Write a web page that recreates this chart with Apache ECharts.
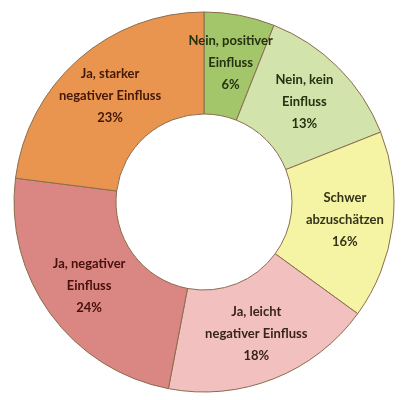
<!DOCTYPE html>
<html>
<head>
<meta charset="utf-8">
<script src="https://cdn.jsdelivr.net/npm/echarts@6/dist/echarts.min.js"></script>
<style>
html,body{margin:0;padding:0;background:#fff;}
#container{width:408px;height:400px;}
</style>
</head>
<body>
<div id="container"></div>
<script>
// Antworten, im Uhrzeigersinn ab 12 Uhr
var categories = [
    'Nein, positiver\nEinfluss',
    'Nein, kein\nEinfluss',
    'Schwer\nabzuschätzen',
    'Ja, leicht\nnegativer Einfluss',
    'Ja, negativer\nEinfluss',
    'Ja, starker\nnegativer Einfluss'
];
var values = [6, 13, 16, 18, 24, 23];
var colors = ['#a3c66a', '#d2e3ac', '#f5f4a4', '#f1c0bf', '#da8682', '#e9954f'];
var labelColors = ['#243210', '#243210', '#33331a', '#38241c', '#46100c', '#42180a'];

var dom = document.getElementById("container");
var myChart = echarts.init(dom);
var option = null;

var data = [];
for (var i = 0; i < values.length; i++) {
    data.push({
        name: categories[i],
        value: values[i],
        itemStyle: {color: colors[i]},
        label: {color: labelColors[i]}
    });
}

option = {
    animation: false,
    series: [{
        type: 'pie',
        center: ['50%', '50.5%'],
        radius: [88, 190],
        startAngle: 90,
        clockwise: true,
        avoidLabelOverlap: false,
        itemStyle: {
            borderColor: '#8a6d4e',
            borderWidth: 1
        },
        label: {
            show: true,
            position: 'inside',
            formatter: '{b}\n{c}%',
            fontFamily: 'Lato',
            fontWeight: 'bold',
            fontSize: 13,
            lineHeight: 22,
            align: 'center'
        },
        labelLine: {show: false},
        data: data
    }]
};
if (option && typeof option === "object") {
    myChart.setOption(option, true);
}
</script>
</body>
</html>
